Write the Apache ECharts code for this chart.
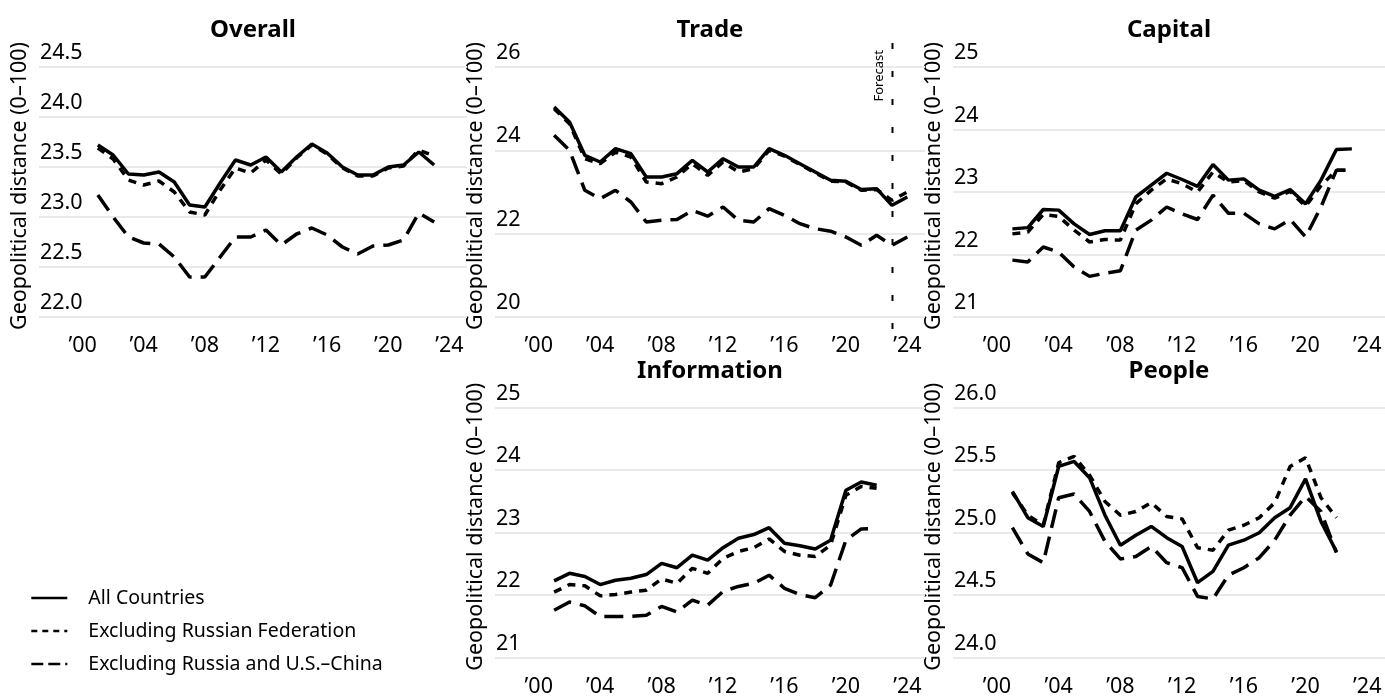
<!DOCTYPE html>
<html>
<head>
<meta charset="utf-8">
<title>Geopolitical distance</title>
<script src="https://cdn.jsdelivr.net/npm/echarts@6/dist/echarts.min.js"></script>
<style>
  html, body { margin: 0; padding: 0; background: #fff; }
  #chart { width: 1385px; height: 698px; }
</style>
</head>
<body>
<div id="chart"></div>
<script>
// Years covered by each panel
const yearsOverall = [2001, 2002, 2003, 2004, 2005, 2006, 2007, 2008, 2009, 2010, 2011, 2012, 2013, 2014, 2015, 2016, 2017, 2018, 2019, 2020, 2021, 2022, 2023];
const yearsTrade   = [2001, 2002, 2003, 2004, 2005, 2006, 2007, 2008, 2009, 2010, 2011, 2012, 2013, 2014, 2015, 2016, 2017, 2018, 2019, 2020, 2021, 2022, 2023, 2024];
const yearsCapital = [2001, 2002, 2003, 2004, 2005, 2006, 2007, 2008, 2009, 2010, 2011, 2012, 2013, 2014, 2015, 2016, 2017, 2018, 2019, 2020, 2021, 2022, 2023];
const yearsInfo    = [2001, 2002, 2003, 2004, 2005, 2006, 2007, 2008, 2009, 2010, 2011, 2012, 2013, 2014, 2015, 2016, 2017, 2018, 2019, 2020, 2021, 2022];
const yearsPeople  = [2001, 2002, 2003, 2004, 2005, 2006, 2007, 2008, 2009, 2010, 2011, 2012, 2013, 2014, 2015, 2016, 2017, 2018, 2019, 2020, 2021, 2022];

// Overall
const overallAll      = [23.72, 23.62, 23.43, 23.42, 23.45, 23.35, 23.12, 23.10, 23.34, 23.57, 23.52, 23.60, 23.45, 23.60, 23.73, 23.64, 23.50, 23.42, 23.42, 23.50, 23.52, 23.65, 23.52];
const overallExRus    = [23.69, 23.58, 23.37, 23.32, 23.36, 23.25, 23.05, 23.02, 23.27, 23.49, 23.44, 23.57, 23.43, 23.59, 23.72, 23.63, 23.49, 23.41, 23.41, 23.49, 23.51, 23.67, 23.61];
const overallExRusUC  = [23.22, 23.00, 22.80, 22.74, 22.73, 22.60, 22.40, 22.40, 22.60, 22.80, 22.80, 22.87, 22.72, 22.83, 22.89, 22.82, 22.70, 22.63, 22.71, 22.72, 22.77, 23.04, 22.95];

// Trade
const tradeAll        = [25.04, 24.68, 23.88, 23.72, 24.04, 23.92, 23.36, 23.36, 23.44, 23.76, 23.48, 23.80, 23.60, 23.60, 24.04, 23.88, 23.68, 23.48, 23.28, 23.26, 23.06, 23.08, 22.68, 22.88];
const tradeExRus      = [25.00, 24.64, 23.80, 23.68, 23.96, 23.84, 23.24, 23.20, 23.36, 23.68, 23.40, 23.72, 23.48, 23.56, 24.00, 23.86, 23.66, 23.46, 23.26, 23.24, 23.04, 23.06, 22.80, 23.00];
const tradeExRusUC    = [24.36, 24.00, 23.04, 22.84, 23.04, 22.76, 22.28, 22.32, 22.34, 22.56, 22.42, 22.64, 22.32, 22.28, 22.60, 22.44, 22.24, 22.12, 22.06, 21.92, 21.72, 21.96, 21.72, 21.92];

// Capital
const capitalAll      = [22.41, 22.43, 22.72, 22.71, 22.49, 22.32, 22.38, 22.38, 22.92, 23.11, 23.30, 23.20, 23.09, 23.44, 23.19, 23.21, 23.03, 22.93, 23.04, 22.81, 23.19, 23.68, 23.69];
const capitalExRus    = [22.33, 22.36, 22.64, 22.61, 22.39, 22.20, 22.24, 22.23, 22.81, 23.03, 23.21, 23.13, 23.00, 23.32, 23.16, 23.18, 23.00, 22.90, 23.01, 22.77, 23.10, 23.35, 23.35];
const capitalExRusUC  = [21.91, 21.88, 22.12, 22.04, 21.80, 21.65, 21.70, 21.74, 22.39, 22.55, 22.76, 22.65, 22.56, 22.95, 22.66, 22.66, 22.49, 22.41, 22.56, 22.28, 22.76, 23.35, 23.35];

// Information
const infoAll         = [22.23, 22.35, 22.30, 22.17, 22.24, 22.27, 22.33, 22.51, 22.44, 22.64, 22.56, 22.76, 22.91, 22.97, 23.08, 22.83, 22.79, 22.74, 22.88, 23.68, 23.81, 23.76];
const infoExRus       = [22.05, 22.17, 22.15, 21.99, 22.01, 22.05, 22.08, 22.26, 22.19, 22.43, 22.35, 22.59, 22.70, 22.76, 22.90, 22.70, 22.64, 22.62, 22.80, 23.60, 23.74, 23.71];
const infoExRusUC     = [21.76, 21.89, 21.83, 21.66, 21.66, 21.66, 21.68, 21.82, 21.73, 21.92, 21.84, 22.06, 22.14, 22.19, 22.32, 22.11, 22.01, 21.96, 22.16, 22.88, 23.06, 23.07];

// People
const peopleAll       = [25.33, 25.12, 25.05, 25.53, 25.57, 25.44, 25.14, 24.90, 24.98, 25.05, 24.96, 24.89, 24.60, 24.69, 24.90, 24.94, 25.00, 25.12, 25.20, 25.43, 25.09, 24.85];
const peopleExRus     = [25.32, 25.14, 25.06, 25.56, 25.61, 25.46, 25.25, 25.14, 25.17, 25.24, 25.13, 25.11, 24.88, 24.86, 25.02, 25.06, 25.12, 25.24, 25.53, 25.60, 25.28, 25.12];
const peopleExRusUC   = [25.04, 24.83, 24.76, 25.28, 25.31, 25.17, 24.93, 24.79, 24.81, 24.89, 24.76, 24.72, 24.49, 24.47, 24.66, 24.72, 24.80, 24.94, 25.14, 25.29, 25.17, 24.84];

// Shared x-axis tick labels and the first forecast year in the Trade panel
const xTicks = [2000, 2004, 2008, 2012, 2016, 2020, 2024];
const forecastYear = 2023;

const seriesNames = ['All Countries', 'Excluding Russian Federation', 'Excluding Russia and U.S.\u2013China'];
const panelTitles = ['Overall', 'Trade', 'Capital', 'Information', 'People'];

const FONT = 'Noto Sans';
const INK = '#000000';
const GRID_COLOR = '#e9e9e9';

const lineTypes = ['solid', [8, 7], [19, 9]];

const panels = [
  { years: yearsOverall, data: [overallAll, overallExRus, overallExRusUC], yMin: 22, yMax: 24.5, step: 0.5, dec: 1 },
  { years: yearsTrade,   data: [tradeAll, tradeExRus, tradeExRusUC],       yMin: 20, yMax: 26,   step: 2,   dec: 0 },
  { years: yearsCapital, data: [capitalAll, capitalExRus, capitalExRusUC], yMin: 21, yMax: 25,   step: 1,   dec: 0 },
  { years: yearsInfo,    data: [infoAll, infoExRus, infoExRusUC],          yMin: 21, yMax: 25,   step: 1,   dec: 0 },
  { years: yearsPeople,  data: [peopleAll, peopleExRus, peopleExRusUC],    yMin: 24, yMax: 26,   step: 0.5, dec: 1 }
];

// Panel frames: two rows, Information and People sit under Trade and Capital
const frames = [
  { left: 39,  top: 67,    width: 428, height: 250 },
  { left: 495, top: 67,    width: 430, height: 250 },
  { left: 953, top: 67,    width: 432, height: 250 },
  { left: 495, top: 407.7, width: 430, height: 250 },
  { left: 953, top: 407.7, width: 432, height: 250 }
];

const grids = frames.map(f => ({ left: f.left, top: f.top, width: f.width, height: f.height, containLabel: false, outerBoundsMode: 'none' }));

const xAxes = frames.map((f, i) => ({
  type: 'value',
  gridIndex: i,
  min: 1997.15,
  max: 2025.15,
  axisLine: { show: false },
  axisTick: { show: false },
  splitLine: { show: false },
  axisLabel: {
    customValues: xTicks,
    margin: 18,
    fontFamily: FONT,
    fontSize: 21.5,
    color: INK,
    formatter: v => '\u2019' + String(v).slice(2)
  }
}));

const yAxes = panels.map((p, i) => ({
  type: 'value',
  gridIndex: i,
  min: p.yMin,
  max: p.yMax,
  interval: p.step,
  axisLine: { show: false },
  axisTick: { show: false },
  splitLine: { show: true, lineStyle: { color: GRID_COLOR, width: 2 } },
  axisLabel: {
    inside: true,
    margin: 1,
    align: 'left',
    verticalAlign: 'bottom',
    padding: [0, 0, 3, 0],
    fontFamily: FONT,
    fontSize: 21.5,
    color: INK,
    formatter: v => v.toFixed(p.dec)
  }
}));

const series = [];
panels.forEach((p, i) => {
  p.data.forEach((vals, k) => {
    series.push({
      type: 'line',
      name: seriesNames[k],
      xAxisIndex: i,
      yAxisIndex: i,
      symbol: 'none',
      z: 10 - k,
      lineStyle: { color: INK, width: 3.5, type: lineTypes[k], cap: 'butt' },
      itemStyle: { color: INK },
      data: p.years.map((y, j) => [y, vals[j]])
    });
  });
});

// Panel headings and rotated axis names
const graphics = [];
frames.forEach((f, i) => {
  graphics.push({
    type: 'text',
    x: f.left + f.width / 2,
    y: f.top - 37,
    style: { text: panelTitles[i], font: 'bold 24px "' + FONT + '"', fill: INK, align: 'center', verticalAlign: 'middle' }
  });
  graphics.push({
    type: 'text',
    x: f.left - 19,
    y: f.top + f.height / 2 - 6,
    rotation: Math.PI / 2,
    style: { text: 'Geopolitical distance (0\u2013100)', font: '21.5px "' + FONT + '"', fill: INK, align: 'center', verticalAlign: 'middle' }
  });
});

const chart = echarts.init(document.getElementById('chart'), null, { renderer: 'canvas' });

// Legend keys show the line pattern only; the point marker is kept invisible
const hiddenMarker = { opacity: 0, borderWidth: 0 };

chart.setOption({
  animation: false,
  backgroundColor: '#ffffff',
  textStyle: { fontFamily: FONT },
  grid: grids,
  xAxis: xAxes,
  yAxis: yAxes,
  series: series,
  legend: {
    orient: 'vertical',
    left: 30,
    top: 588,
    padding: 0,
    itemWidth: 36,
    itemHeight: 18,
    itemGap: 13,
    selectedMode: false,
    itemStyle: hiddenMarker,
    textStyle: { fontFamily: FONT, fontSize: 19.5, color: INK, padding: [0, 0, 0, 16] },
    data: [
      { name: seriesNames[0], itemStyle: hiddenMarker, lineStyle: { width: 2.6, type: 'solid' } },
      { name: seriesNames[1], itemStyle: hiddenMarker, lineStyle: { width: 2.6, type: [6, 5] } },
      { name: seriesNames[2], itemStyle: hiddenMarker, lineStyle: { width: 2.6, type: [12, 5] } }
    ]
  },
  graphic: graphics
});

// Forecast marker in the Trade panel, placed through the panel's own scales
const topPt = chart.convertToPixel({ gridIndex: 1 }, [forecastYear, 26]);
const botPt = chart.convertToPixel({ gridIndex: 1 }, [forecastYear, 20]);
const fx = Math.round(topPt[0]) + 0.5;
chart.setOption({
  graphic: graphics.concat([
    {
      type: 'line',
      shape: { x1: fx, y1: topPt[1] - 24, x2: fx, y2: botPt[1] + 26 },
      style: { stroke: INK, lineWidth: 2, lineDash: [6, 22] },
      z: 20
    },
    {
      type: 'text',
      x: fx - 13,
      y: topPt[1] - 17,
      rotation: Math.PI / 2,
      style: { text: 'Forecast', font: '13px "' + FONT + '"', fill: INK, align: 'right', verticalAlign: 'middle' },
      z: 20
    }
  ])
});
</script>
</body>
</html>
